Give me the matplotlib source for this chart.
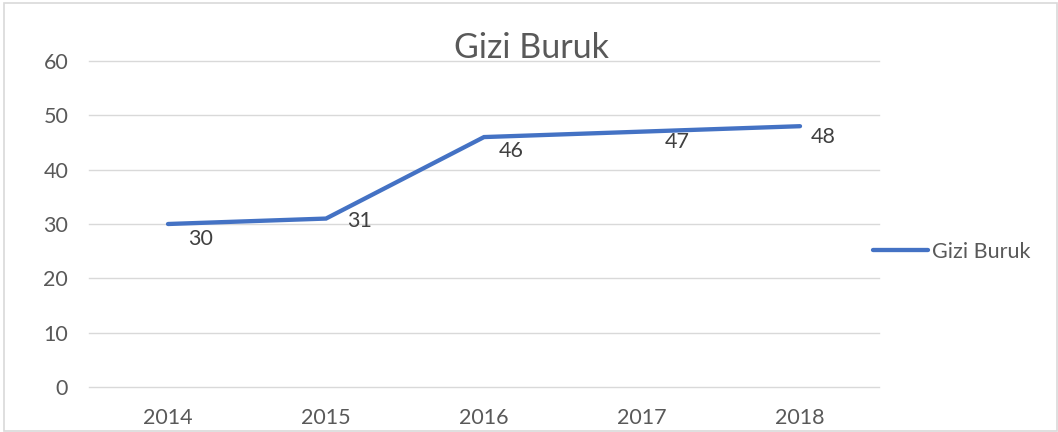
import matplotlib
matplotlib.use("Agg")
import matplotlib.pyplot as plt
from matplotlib.patches import Rectangle

years = ['2014', '2015', '2016', '2017', '2018']
gizi_buruk = [30, 31, 46, 47, 48]
series_name = 'Gizi Buruk'
y_ticks = [0, 10, 20, 30, 40, 50, 60]

# label offsets (pixels, right / down) as placed in the original
label_offsets = [(33, 15), (34, 2), (27, 14), (35, 10), (23, 11)]

plt.rcParams['font.family'] = ['Lato', 'DejaVu Sans']
txt_color = '#595959'
grid_color = '#d9d9d9'
blue = '#4472C4'

fig = plt.figure(figsize=(10.58, 4.32), dpi=100)
ax = fig.add_axes([89 / 1058, 1 - 387 / 432, 790 / 1058, 326 / 432])

x = list(range(len(years)))
line, = ax.plot(x, gizi_buruk, color=blue, lw=3.1, solid_capstyle='round',
                solid_joinstyle='miter', label=series_name, zorder=3)

for xi, v, (dx, dy) in zip(x, gizi_buruk, label_offsets):
    ax.annotate(str(v), (xi, v), xytext=(dx * 0.72, -dy * 0.72),
                textcoords='offset points', ha='center', va='center',
                fontsize=15.5, color='#404040')

ax.set_xlim(-0.5, len(years) - 0.5)
ax.set_ylim(0, 60)
ax.set_xticks(x)
ax.set_xticklabels(years)
ax.set_yticks(y_ticks)
ax.tick_params(axis='both', length=0, labelsize=15.5, labelcolor=txt_color)
ax.tick_params(axis='y', pad=15)
ax.tick_params(axis='x', pad=15)
ax.grid(axis='y', color=grid_color, lw=1.0)
for gl in ax.get_ygridlines():
    gl.set_clip_on(False)
ax.set_axisbelow(True)
for s in ax.spines.values():
    s.set_visible(False)

fig.text(531 / 1058, 1 - 48 / 432, series_name, ha='center', va='center',
         fontsize=24.5, color=txt_color)

fig.legend(handles=[line], loc='center left',
           bbox_to_anchor=(873 / 1058, 1 - 252 / 432), frameon=False,
           borderpad=0, borderaxespad=0, handlelength=2.55,
           handletextpad=0.18, prop={'size': 15.5}, labelcolor=txt_color)

fig.patches.append(Rectangle((4 / 1058, 1 - 430.5 / 432), 1052.5 / 1058, 427.5 / 432,
                             transform=fig.transFigure, fill=False,
                             edgecolor=grid_color, lw=1.2))

fig.savefig('out.png', dpi=100)
